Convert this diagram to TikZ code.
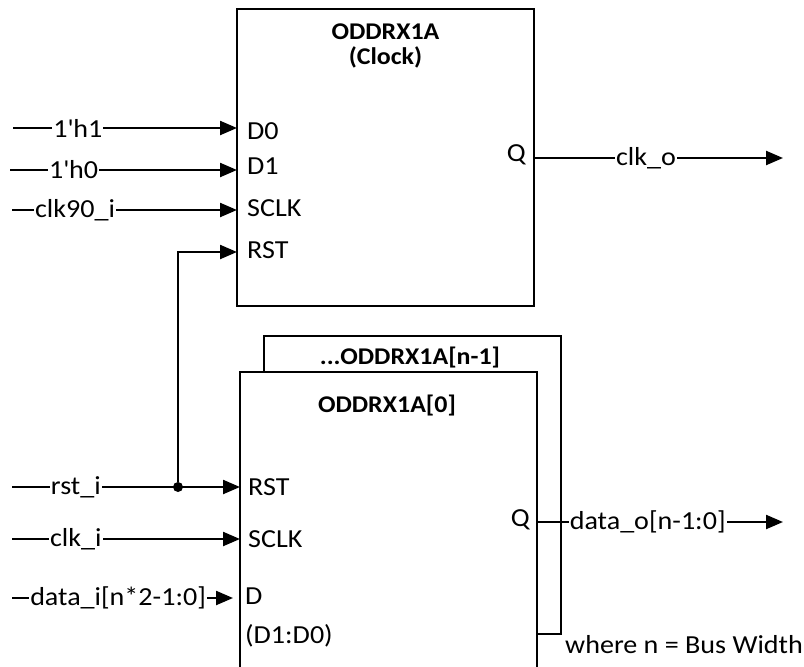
\documentclass[tikz,border=0pt]{standalone}
\usepackage{fontspec}
\setmainfont{Carlito}[FakeStretch=1.08]
\usetikzlibrary{arrows.meta,positioning,calc}

\begin{document}
\begin{tikzpicture}[x=1pt,y=-1pt,
  every node/.style={font=\fontsize{26}{29}\selectfont},
  blk/.style={draw,line width=2.3pt,rectangle,inner sep=0pt},
  arr/.style={-{Triangle[length=17pt,width=14pt]},line width=2.3pt},
  wire/.style={line width=2.3pt},
  lbl/.style={fill=white,inner xsep=1pt,inner ysep=0pt},
  port/.style={inner sep=0pt},
  ttl/.style={font=\fontsize{24}{27}\selectfont\bfseries,align=center,inner sep=0pt}
]
\useasboundingbox (0,0) rectangle (804,667);

% clock ODDR
\node[blk,minimum width=297pt,minimum height=297pt] (ckb) at (385.5,157.5) {};
\node[ttl] (ckt) at (385.5,46) {ODDRX1A\\[-2pt](Clock)};

\coordinate (d0) at (237,128);
\coordinate (d1) at (237,170);
\coordinate (sck) at (237,210);
\coordinate (rsa) at (237,252);
\coordinate (qa) at (534,158);
\node[port,anchor=west] (d0t) at (247,131) {D0};
\node[port,anchor=west] (d1t) at (247,166) {D1};
\node[port,anchor=west] (sckt) at (247,208) {SCLK};
\node[port,anchor=west] (rsat) at (247,250) {RST};
\node[port,anchor=east] (qat) at (526,155) {Q};

\coordinate (h1) at (13,128);
\coordinate (h0) at (10,170);
\coordinate (c90) at (12,210);
\coordinate (cko) at (783,158);

\draw[arr] (h1) -- node[lbl,pos=0.29]{1\textquotesingle h1} (d0);
\draw[arr] (h0) -- node[lbl,pos=0.28]{1\textquotesingle h0} (d1);
\draw[arr] (c90) -- node[lbl,pos=0.28]{clk90\_i} (sck);
\draw[arr] (qa) -- node[lbl,pos=0.45]{clk\_o} (cko);

% data ODDR, back and front
\node[blk,minimum width=297pt,minimum height=298pt] (dbk) at (412.5,485) {};
\node[ttl] (dbt) at (410,358) {...ODDRX1A[n-1]};
\draw[wire,fill=white] (240,667) -- (240,372) -- (537,372) -- (537,667);
\node[ttl] (dft) at (387,406) {ODDRX1A[0]};

\coordinate (rsb) at (240,487);
\coordinate (skb) at (240,539);
\coordinate (db) at (233,598);
\coordinate (qb) at (537,522);
\node[port,anchor=west] (rsbt) at (248,487) {RST};
\node[port,anchor=west] (skbt) at (248,539) {SCLK};
\node[port,anchor=west] (dbt1) at (245,596) {D};
\node[port,anchor=west] (dbt2) at (245,636) {(D1:D0)};
\node[port,anchor=east] (qbt) at (530,520) {Q};

\coordinate (rsti) at (12,487);
\coordinate (clki) at (12,539);
\coordinate (dati) at (12,598);
\coordinate (dato) at (783,522);
\node[circle,fill,inner sep=0pt,minimum size=10pt] (jn) at (178,487) {};

\draw[arr] (rsti) -- node[lbl,pos=0.28]{rst\_i} (rsb);
\draw[arr] (jn) |- (rsa);
\draw[arr] (clki) -- node[lbl,pos=0.28]{clk\_i} (skb);
\draw[arr] (dati) -- node[lbl,pos=0.48]{data\_i[n*2-1:0]} (db);
\draw[arr] (qb) -- node[lbl,pos=0.45]{data\_o[n-1:0]} (dato);

\node[port,anchor=west] (note) at (565,645) {where n = Bus Width};
\end{tikzpicture}
\end{document}
